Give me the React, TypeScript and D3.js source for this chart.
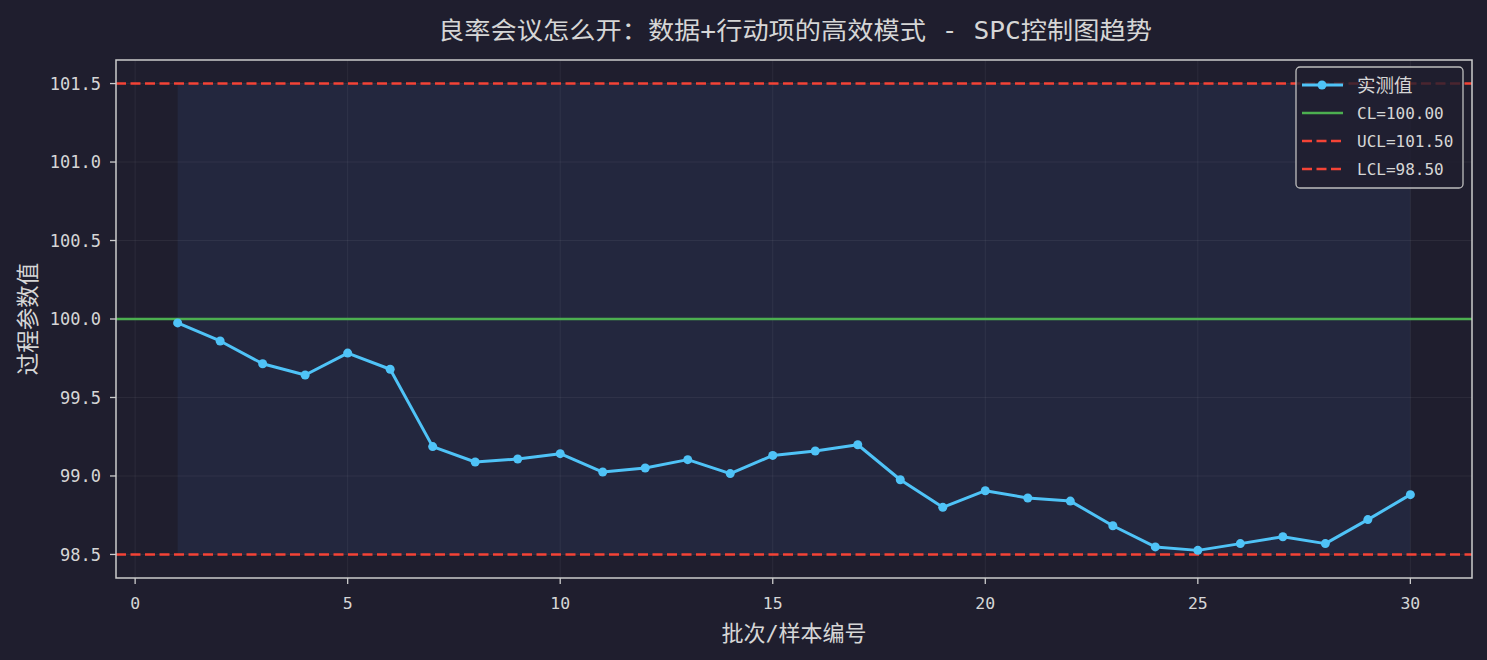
import React, { useEffect } from 'react';
import * as d3 from 'd3';

const batches: number[] = [
  1, 2, 3, 4, 5, 6, 7, 8, 9, 10, 11, 12, 13, 14, 15,
  16, 17, 18, 19, 20, 21, 22, 23, 24, 25, 26, 27, 28, 29, 30,
];
const measured: number[] = [
  99.975, 99.86, 99.715, 99.643, 99.783, 99.68, 99.187, 99.089, 99.108, 99.142,
  99.025, 99.051, 99.104, 99.015, 99.131, 99.159, 99.199, 98.976, 98.8, 98.906,
  98.86, 98.84, 98.683, 98.548, 98.526, 98.569, 98.613, 98.569, 98.722, 98.881,
];
const CL = 100.0;
const UCL = 101.5;
const LCL = 98.5;
const xTicks: number[] = [0, 5, 10, 15, 20, 25, 30];
const yTicks: number[] = [98.5, 99.0, 99.5, 100.0, 100.5, 101.0, 101.5];

const title = '良率会议怎么开：数据+行动项的高效模式 - SPC控制图趋势';
const xLabel = '批次/样本编号';
const yLabel = '过程参数值';
const legendLabels: string[] = ['实测值', `CL=${CL.toFixed(2)}`, `UCL=${UCL.toFixed(2)}`, `LCL=${LCL.toFixed(2)}`];

const W = 1487;
const H = 660;
const bg = '#1f1e2e';
const fg = '#d6d6d6';
const blue = '#4fc3f7';
const green = '#4caf50';
const red = '#f44336';
const font = '"DejaVu Sans Mono", "Noto Sans Mono CJK SC", "Noto Sans CJK SC", monospace';

const x = d3.scaleLinear().domain([-0.45, 31.45]).range([116, 1472]);
const y = d3.scaleLinear().domain([98.35, 101.65]).range([578, 60]);

export default function App() {
  useEffect(() => {
    document.body.style.margin = '0';
    document.body.style.background = bg;
  }, []);

  const line = d3.line<number>()
    .x((d, i) => x(batches[i]))
    .y(d => y(d));

  const [x0, x1] = x.range();
  const [y0, y1] = y.range();

  return (
    <svg width={W} height={H} style={{ display: 'block', background: bg }} fontFamily={font}>
      <rect x={0} y={0} width={W} height={H} fill={bg} />
      {/* shaded control band */}
      <rect
        x={x(batches[0])}
        y={y(UCL)}
        width={x(batches[batches.length - 1]) - x(batches[0])}
        height={y(LCL) - y(UCL)}
        fill="#2a3a5c"
        opacity={0.35}
      />
      {/* grid */}
      {xTicks.map(t => (
        <line key={'gx' + t} x1={x(t)} x2={x(t)} y1={y1} y2={y0} stroke="#ffffff" strokeOpacity={0.06} strokeWidth={1} />
      ))}
      {yTicks.map(t => (
        <line key={'gy' + t} x1={x0} x2={x1} y1={y(t)} y2={y(t)} stroke="#ffffff" strokeOpacity={0.06} strokeWidth={1} />
      ))}
      {/* control lines */}
      <line x1={x0} x2={x1} y1={y(CL)} y2={y(CL)} stroke={green} strokeWidth={2.6} />
      <line x1={x0} x2={x1} y1={y(UCL)} y2={y(UCL)} stroke={red} strokeWidth={2.6} strokeDasharray="10,4.5" />
      <line x1={x0} x2={x1} y1={y(LCL)} y2={y(LCL)} stroke={red} strokeWidth={2.6} strokeDasharray="10,4.5" />
      {/* series */}
      <path d={line(measured) || ''} fill="none" stroke={blue} strokeWidth={3} strokeLinejoin="round" />
      {measured.map((v, i) => (
        <circle key={'p' + i} cx={x(batches[i])} cy={y(v)} r={4.5} fill={blue} />
      ))}
      {/* spines */}
      <rect x={x0} y={y1} width={x1 - x0} height={y0 - y1} fill="none" stroke="#cccccc" strokeWidth={1.5} />
      {/* x ticks */}
      {xTicks.map(t => (
        <g key={'xt' + t}>
          <line x1={x(t)} x2={x(t)} y1={y0} y2={y0 + 6} stroke="#cccccc" strokeWidth={1.3} />
          <text x={x(t)} y={y0 + 31} fill={fg} fontSize={16.5} textAnchor="middle">{t}</text>
        </g>
      ))}
      {/* y ticks */}
      {yTicks.map(t => (
        <g key={'yt' + t}>
          <line x1={x0 - 6} x2={x0} y1={y(t)} y2={y(t)} stroke="#cccccc" strokeWidth={1.3} />
          <text x={x0 - 15} y={y(t)} dy="0.36em" fill={fg} fontSize={17} textAnchor="end">{t.toFixed(1)}</text>
        </g>
      ))}
      {/* labels */}
      <text x={(x0 + x1) / 2} y={641} fill={fg} fontSize={22} textAnchor="middle">{xLabel}</text>
      <text transform={`translate(36,${(y0 + y1) / 2}) rotate(-90)`} fill={fg} fontSize={22.5} textAnchor="middle">{yLabel}</text>
      <text x={438} y={39} fill={fg} fontSize={24} textLength={714} lengthAdjust="spacingAndGlyphs">{title}</text>
      {/* legend */}
      <g>
        <rect x={1296} y={67} width={167} height={121} rx={4} fill={bg} fillOpacity={0.8} stroke="#bdbdbd" strokeWidth={1.3} />
        {legendLabels.map((lab, i) => {
          const ly = 85 + i * 28;
          const color = i === 0 ? blue : i === 1 ? green : red;
          return (
            <g key={'lg' + i}>
              <line x1={1302} x2={1343} y1={ly} y2={ly} stroke={color} strokeWidth={i === 0 ? 3 : 2.4} strokeDasharray={i >= 2 ? '10,4.5' : undefined} />
              {i === 0 && <circle cx={1322} cy={ly} r={4.5} fill={blue} />}
              <text x={1357} y={ly} dy="0.36em" fill={fg} fontSize={i === 0 ? 18.5 : 16} >{lab}</text>
            </g>
          );
        })}
      </g>
    </svg>
  );
}
